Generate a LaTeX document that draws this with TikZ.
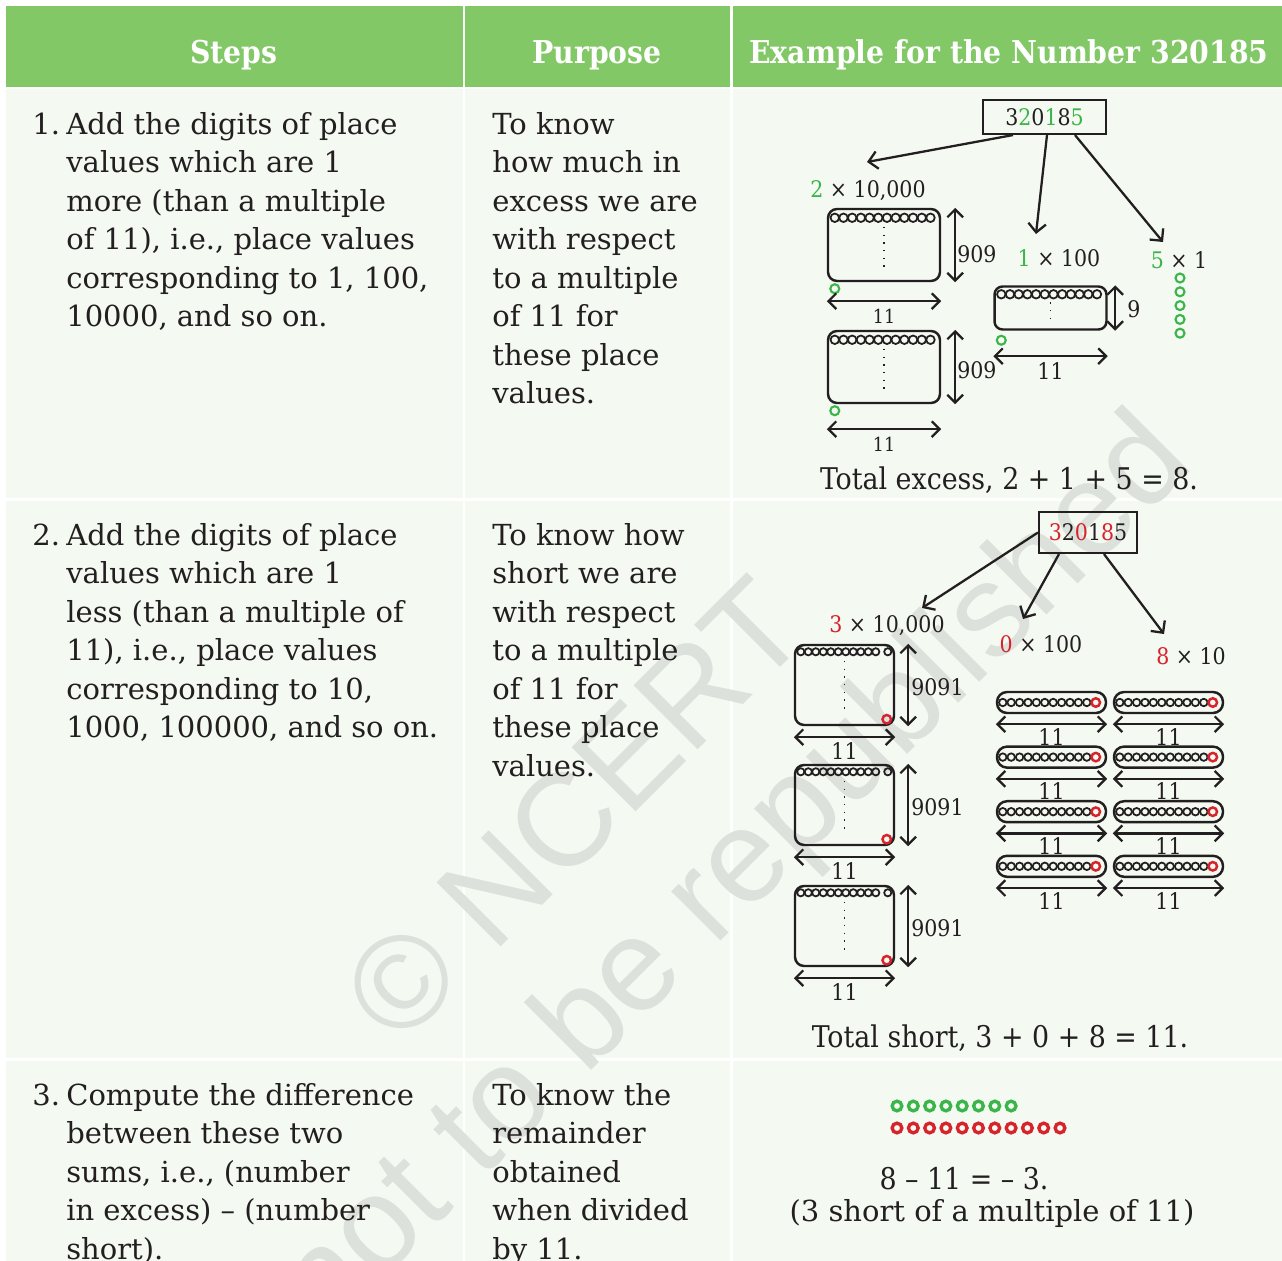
\documentclass[tikz,border=0pt]{standalone}
\usepackage{fontspec}
\setmainfont{DejaVu Serif}
\newfontfamily\condfont{DejaVu Serif Condensed}
\newfontfamily\wmfont{Liberation Sans}
\usetikzlibrary{arrows.meta, positioning}
\definecolor{headgreen}{HTML}{82C866}
\definecolor{cellbg}{HTML}{F4F9F2}
\definecolor{bgreen}{HTML}{3BB54A}
\definecolor{bred}{HTML}{D7232B}
\definecolor{wmgray}{HTML}{DCE1DB}
\definecolor{ink}{HTML}{231F20}
\newcommand{\gd}[1]{\textcolor{bgreen}{#1}}
\newcommand{\rd}[1]{\textcolor{bred}{#1}}

\begin{document}
\begin{tikzpicture}[x=0.02cm, y=-0.02cm,
    every node/.style={text=ink, inner sep=0pt},
    headtext/.style={font=\condfont\fontsize{17.9}{21}\selectfont\bfseries, text=white, anchor=base},
    bodytext/.style={font=\fontsize{16.5}{21.9}\selectfont, align=left, anchor=north west},
    sumtext/.style={font=\condfont\fontsize{17}{21.9}\selectfont, anchor=base},
    lbl/.style={font=\condfont\fontsize{13}{15}\selectfont},
    tiny/.style={font=\condfont\fontsize{11}{13}\selectfont},
    numbox/.style={draw=ink, line width=1.2pt, font=\condfont\fontsize{13}{15}\selectfont},
    bigbox/.style={draw=ink, line width=1.4pt, rounded corners=0.18cm},
    bead/.style={draw=ink, line width=1pt},
    gbead/.style={draw=bgreen, line width=1.2pt},
    rbead/.style={draw=bred, line width=1.4pt},
    dim/.style={draw=ink, line width=1.3pt, {Straight Barb[length=4.5pt,width=9pt]}-{Straight Barb[length=4.5pt,width=9pt]}},
    ptr/.style={draw=ink, line width=1.3pt, -{Straight Barb[length=5pt,width=10pt]}},
    dots/.style={draw=ink, line width=0.8pt, dash pattern=on 0.8pt off 3.6pt},
    wm/.style={font=\wmfont\fontsize{75}{80}\selectfont, text=wmgray, anchor=base west, rotate=45}]
\useasboundingbox (0,0) rectangle (1282,1261);
\fill[white] (0,0) rectangle (1282,1261);
\foreach \xa/\xb in {6/463, 465/730, 733/1282}{
  \fill[headgreen] (\xa,6) rectangle (\xb,87);
  \foreach \ya/\yb in {89/498, 501/1058, 1061/1270}
    \fill[cellbg] (\xa,\ya) rectangle (\xb,\yb);
}
\node[wm] (wm1) at (399,1049) {© NCERT};
\node[wm] (wm2) at (326,1336) {not to be republished};

\node[headtext] (hsteps) at (234,63) {Steps};
\node[headtext] (hpurp) at (597,63) {Purpose};
\node[headtext] (hex) at (1009,63) {Example for the Number 320185};

% steps and purposes
\node[bodytext] (k1) at (32,107) {\strut 1.};
\node[bodytext] (step1) at (66,107) {\strut Add the digits of place\\values which are 1\\more (than a multiple\\of 11), i.e., place values\\corresponding to 1, 100,\\10000, and so on.};
\node[bodytext] (purp1) at (492,107) {\strut To know\\how much in\\excess we are\\with respect\\to a multiple\\of 11 for\\these place\\values.};
\node[bodytext] (k2) at (32,518) {\strut 2.};
\node[bodytext] (step2) at (66,518) {\strut Add the digits of place\\values which are 1\\less (than a multiple of\\11), i.e., place values\\corresponding to 10,\\1000, 100000, and so on.};
\node[bodytext] (purp2) at (492,518) {\strut To know how\\short we are\\with respect\\to a multiple\\of 11 for\\these place\\values.};
\node[bodytext] (k3) at (32,1078) {\strut 3.};
\node[bodytext] (step3) at (66,1078) {\strut Compute the difference\\between these two\\sums, i.e., (number\\in excess) – (number\\short).};
\node[bodytext] (purp3) at (492,1078) {\strut To know the\\remainder\\obtained\\when divided\\by 11.};

% excess
\node[numbox, minimum width=2.46cm, minimum height=0.68cm] (num1) at (1044.5,117) {3\gd{2}0\gd{1}8\gd{5}};
\node[lbl, anchor=base] (lab1) at (868,197) {\gd{2} × 10,000};
\node[lbl, anchor=base] (lab2) at (1059,266) {\gd{1} × 100};
\node[lbl, anchor=base] (lab3) at (1179,268) {\gd{5} × 1};
\coordinate (t1) at (867,162);
\coordinate (t2) at (1036,234);
\coordinate (t3) at (1163,242);
\draw[ptr] ([xshift=-0.63cm]num1.south) -- (t1);
\draw[ptr] ([xshift=0.05cm]num1.south) -- (t2);
\draw[ptr] ([xshift=0.61cm]num1.south) -- (t3);
\foreach \nm/\cy/\ay/\ty in {bxa/245/0.38cm/262, bxb/367/0.5cm/378}{
  \node[bigbox, minimum width=2.24cm, minimum height=1.44cm] (\nm) at (884,\cy) {};
  \foreach \i in {0,...,11} \draw[bead] (\nm.north west) ++(8+\i*8.7,10) circle[radius=0.085cm];
  \draw[dots] (\nm.north) ++(0,19) -- ++(0,46);
  \draw[gbead] (\nm.south west) ++(8,6.5) circle[radius=0.09cm];
  \draw[dim] ([yshift=-\ay]\nm.south west) -- node[tiny, below=0.14cm] (w\nm) {11} ([yshift=-\ay]\nm.south east);
  \draw[dim] ([xshift=0.28cm]\nm.north east) -- ([xshift=0.28cm]\nm.south east);
  \node[lbl, anchor=base west] (h\nm) at (957,\ty) {909};
}
\node[bigbox, minimum width=2.24cm, minimum height=0.86cm, rounded corners=0.16cm] (sbx) at (1050.5,308) {};
\foreach \i in {0,...,11} \draw[bead] (sbx.north west) ++(8+\i*8.7,9) circle[radius=0.085cm];
\draw[dots] (sbx.north) ++(0,17) -- ++(0,20);
\draw[gbead] (sbx.south west) ++(8,9.5) circle[radius=0.09cm];
\draw[dim] ([yshift=-0.51cm]sbx.south west) -- node[lbl, below=0.1cm] (wsbx) {11} ([yshift=-0.51cm]sbx.south east);
\draw[dim] ([xshift=0.15cm]sbx.north east) -- ([xshift=0.15cm]sbx.south east);
\node[lbl, anchor=base west] (hsbx) at (1127,317) {9};
\foreach \k in {0,...,4} \draw[gbead] (1180,278+13.8*\k) circle[radius=0.09cm];
\node[sumtext] (tot1) at (1009,489) {Total excess, 2 + 1 + 5 = 8.};

% short
\node[numbox, minimum width=1.96cm, minimum height=0.82cm] (num2) at (1088,532.5) {\rd{3}2\rd{0}1\rd{8}5};
\node[lbl, anchor=base] (lab4) at (887,632) {\rd{3} × 10,000};
\node[lbl, anchor=base] (lab5) at (1041,652) {\rd{0} × 100};
\node[lbl, anchor=base] (lab6) at (1191,664) {\rd{8} × 10};
\coordinate (t4) at (922,608);
\coordinate (t5) at (1023,619);
\coordinate (t6) at (1164,634);
\draw[ptr] (num2.west) -- (t4);
\draw[ptr] ([xshift=-0.58cm]num2.south) -- (t5);
\draw[ptr] ([xshift=0.32cm]num2.south) -- (t6);
\foreach \nm/\cy in {cxa/685, cxb/805, cxc/926}{
  \node[bigbox, minimum width=1.98cm, minimum height=1.6cm] (\nm) at (844.5,\cy) {};
  \foreach \i in {0,...,10} \draw[bead] (\nm.north west) ++(7+\i*7.5,8) circle[radius=0.072cm];
  \draw[bead] (\nm.north west) ++(94,8) circle[radius=0.072cm];
  \draw[dots] (\nm.north) ++(0,17) -- ++(0,53);
  \draw[rbead] (\nm.south east) ++(-8.5,-7) circle[radius=0.085cm];
  \draw[dim] ([yshift=-0.22cm]\nm.south west) -- node[lbl, below=0.08cm] (w\nm) {11} ([yshift=-0.22cm]\nm.south east);
  \draw[dim] ([xshift=0.26cm]\nm.north east) -- ([xshift=0.26cm]\nm.south east);
  \node[lbl, anchor=base west] (h\nm) at (911,\cy+10) {9091};
}
\foreach \r in {0,...,3}
  \foreach \c in {0,1}{
    \node[bigbox, minimum width=2.18cm, minimum height=0.42cm, rounded corners=0.2cm] (bar\r\c) at (1051.5+117*\c,702.5+54.6*\r) {};
    \foreach \i in {0,...,10} \draw[bead] (bar\r\c.west) ++(7+\i*8.4,0) circle[radius=0.075cm];
    \draw[rbead] (bar\r\c.west) ++(100,0) circle[radius=0.085cm];
    \draw[dim] ([yshift=-0.2cm]bar\r\c.south west) -- node[lbl, below=0.06cm] (wbar\r\c) {11} ([yshift=-0.2cm]bar\r\c.south east);
  }
\node[sumtext] (tot2) at (1000,1047) {Total short, 3 + 0 + 8 = 11.};

% difference
\foreach \i in {0,...,7} \draw[draw=bgreen, line width=1.9pt] (897+16.3*\i,1106) circle[radius=0.097cm];
\foreach \i in {0,...,10} \draw[draw=bred, line width=1.9pt] (897+16.3*\i,1128) circle[radius=0.097cm];
\node[sumtext] (diff) at (964,1189) {8 – 11 = – 3.};
\node[sumtext, font=\fontsize{16.5}{21.9}\selectfont] (note) at (992,1221) {(3 short of a multiple of 11)};
\end{tikzpicture}
\end{document}
